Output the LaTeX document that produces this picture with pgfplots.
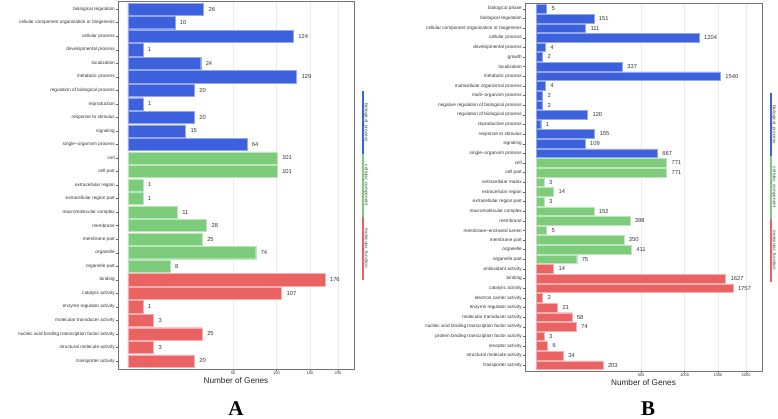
\documentclass[border=0pt]{standalone}
\usepackage{pgfplots}
\usepackage{pgfplotstable}
\usepackage{fontspec}
\pgfplotsset{compat=1.18}
\setmainfont{Liberation Sans}
\newfontfamily\serifb{Liberation Serif}

\definecolor{bpblue}{RGB}{61,97,221}
\definecolor{ccgreen}{RGB}{124,204,124}
\definecolor{mfred}{RGB}{234,98,98}

% panel A
\pgfplotstableread{
y v
0 26
1 10
2 124
3 1
4 24
5 129
6 20
7 1
8 20
9 15
10 64
}\Abp
\pgfplotstableread{
y v
11 101
12 101
13 1
14 1
15 11
16 28
17 25
18 74
19 8
}\Acc
\pgfplotstableread{
y v
20 176
21 107
22 1
23 3
24 25
25 3
26 20
}\Amf

% panel B
\pgfplotstableread{
y v
0 5
1 151
2 111
3 1204
4 4
5 2
6 337
7 1540
8 4
9 2
10 2
11 120
12 1
13 155
14 109
15 667
}\Bbp
\pgfplotstableread{
y v
16 771
17 771
18 3
19 14
20 3
21 152
22 398
23 5
24 350
25 411
26 75
}\Bcc
\pgfplotstableread{
y v
27 14
28 1627
29 1757
30 2
31 21
32 58
33 74
34 3
35 6
36 34
37 203
}\Bmf

\pgfplotsset{
  goplot/.style={
    xbar, bar shift=0pt, bar width=0.9,
    scale only axis, clip=false,
    y dir=reverse,
    x coord trafo/.code={\pgfmathparse{sign(##1)*sqrt(abs(##1))}},
    x coord inv trafo/.code={\pgfmathparse{##1*abs(##1)}},
    axis line style={black!55},
    tick pos=left,
    tick align=outside, major tick length=2pt,
    tick style={black!60, line width=0.3pt},
    xmajorgrids, grid style={black!8, line width=0.3pt},
    yticklabel style={font=\fontsize{4.7}{5}\selectfont, text=black!80, inner sep=1pt},
    xticklabel style={font=\fontsize{4}{4.5}\selectfont, text=black!80, inner sep=1pt},
    xlabel={Number of Genes},
    xlabel style={font=\fontsize{8.2}{9}\selectfont, text=black!85, inner sep=1pt},
    nodes near coords={\pgfplotspointmeta},
    point meta=explicit symbolic,
    every node near coord/.append style={font=\fontsize{5.8}{6}\selectfont, text=black!80, anchor=west, xshift=1.5pt},
  },
  bpbar/.style={fill=bpblue, draw=bpblue!55!white, line width=0.4pt},
  ccbar/.style={fill=ccgreen, draw=ccgreen!50!white, line width=0.4pt},
  mfbar/.style={fill=mfred, draw=mfred!50!white, line width=0.4pt},
}

\newcommand{\gostrip}{%
  \draw[bpblue, line width=1.2pt] (axis description cs:1.038,0.755) -- (axis description cs:1.038,0.584);
  \draw[ccgreen, line width=1.2pt] (axis description cs:1.038,0.584) -- (axis description cs:1.038,0.414);
  \draw[mfred, line width=1.2pt] (axis description cs:1.038,0.414) -- (axis description cs:1.038,0.242);
  \node[rotate=-90, anchor=south, font=\fontsize{4.7}{5}\selectfont, text=black!75, inner sep=0.8pt]
    at (axis description cs:1.038,0.670) {biological\_process};
  \node[rotate=-90, anchor=south, font=\fontsize{4.7}{5}\selectfont, text=black!75, inner sep=0.8pt]
    at (axis description cs:1.038,0.499) {cellular\_component};
  \node[rotate=-90, anchor=south, font=\fontsize{4.7}{5}\selectfont, text=black!75, inner sep=0.8pt]
    at (axis description cs:1.038,0.328) {molecular\_function};
}

\begin{document}
\begin{tikzpicture}
\useasboundingbox (0pt,0pt) rectangle (778pt,-419pt);

\begin{axis}[goplot,
  at={(118pt,-369pt)}, anchor=south west,
  width=236pt, height=368pt,
  xmin=-0.45, xmax=231.6,
  ymin=-0.6, ymax=26.6,
  xtick={50,100,150,200}, xticklabels={50,100,150,200},
  ytick={0,...,26},
  yticklabels={biological regulation, cellular component organization or biogenesis, cellular process, developmental process, localization, metabolic process, regulation of biological process, reproduction, response to stimulus, signaling, single−organism process, cell, cell part, extracellular region, extracellular region part, macromolecular complex, membrane, membrane part, organelle, organelle part, binding, catalytic activity, enzyme regulator activity, molecular transducer activity, nucleic acid binding transcription factor activity, structural molecule activity, transporter activity},
]
\addplot[bpbar] table[x=v, y=y, meta=v] {\Abp};
\addplot[ccbar] table[x=v, y=y, meta=v] {\Acc};
\addplot[mfbar] table[x=v, y=y, meta=v] {\Amf};
\gostrip
\end{axis}

\begin{axis}[goplot,
  at={(525pt,-371pt)}, anchor=south west,
  width=237pt, height=368pt,
  xmin=-5.5, xmax=2313,
  ymin=-0.6, ymax=37.6,
  xtick={500,1000,1500,2000}, xticklabels={500,1000,1500,2000},
  ytick={0,...,37},
  yticklabels={biological phase, biological regulation, cellular component organization or biogenesis, cellular process, developmental process, growth, localization, metabolic process, multicellular organismal process, multi−organism process, negative regulation of biological process, regulation of biological process, reproductive process, response to stimulus, signaling, single−organism process, cell, cell part, extracellular matrix, extracellular region, extracellular region part, macromolecular complex, membrane, membrane−enclosed lumen, membrane part, organelle, organelle part, antioxidant activity, binding, catalytic activity, electron carrier activity, enzyme regulator activity, molecular transducer activity, nucleic acid binding transcription factor activity, protein binding transcription factor activity, receptor activity, structural molecule activity, transporter activity},
]
\addplot[bpbar] table[x=v, y=y, meta=v] {\Bbp};
\addplot[ccbar] table[x=v, y=y, meta=v] {\Bcc};
\addplot[mfbar] table[x=v, y=y, meta=v] {\Bmf};
\gostrip
\end{axis}

\node[anchor=base, inner sep=0pt, font=\serifb\bfseries\fontsize{21}{22}\selectfont] at (236pt,-415pt) {A};
\node[anchor=base, inner sep=0pt, font=\serifb\bfseries\fontsize{21}{22}\selectfont] at (648pt,-415pt) {B};
\end{tikzpicture}
\end{document}
